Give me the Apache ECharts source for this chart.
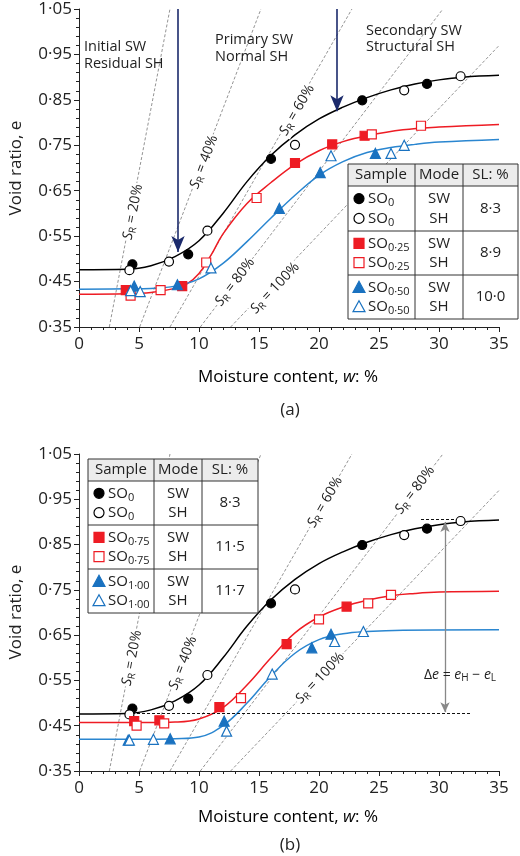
<!DOCTYPE html>
<html><head><meta charset="utf-8">
<script src="https://cdn.jsdelivr.net/npm/echarts@6/dist/echarts.min.js"></script>
<style>html,body{margin:0;padding:0;background:#fff}#c{width:520px;height:856px}</style>
</head><body><div id="c"></div>
<script>
// ---------- DATA ----------
const xTicks = [0, 5, 10, 15, 20, 25, 30, 35];
const yTicks = [0.35, 0.45, 0.55, 0.65, 0.75, 0.85, 0.95, 1.05];
const satLevels = [20, 40, 60, 80, 100]; // S_R %
const Gs = 2.77;
// (a) points [w, e]
const so0SW = [[4.45,0.488],[9.1,0.51],[16.0,0.72],[23.6,0.849],[29.0,0.885]];
const so0SH = [[4.2,0.475],[7.5,0.494],[10.7,0.562],[18.0,0.751],[27.1,0.871],[31.8,0.902]];
const so025SW = [[3.9,0.431],[8.6,0.44],[18.0,0.711],[21.1,0.752],[23.8,0.771]];
const so025SH = [[4.3,0.419],[6.8,0.431],[10.6,0.492],[14.8,0.634],[24.4,0.774],[28.5,0.793]];
const so050SW = [[4.6,0.44],[8.2,0.443],[16.7,0.611],[20.1,0.69],[24.7,0.732]];
const so050SH = [[4.3,0.43],[5.1,0.428],[11.0,0.48],[21.0,0.727],[26.0,0.732],[27.1,0.75]];
// (a) fitted curves
const fitSO0 = [[0,0.476],[4,0.477],[6,0.485],[8,0.505],[10,0.54],[12,0.6],[14,0.67],[16,0.728],[18,0.773],[20,0.808],[22,0.834],[24,0.855],[26,0.872],[28,0.885],[30,0.894],[32,0.9],[35,0.904]];
const fitSO025 = [[0,0.422],[4,0.423],[6,0.426],[8,0.435],[9,0.445],[10,0.468],[11,0.508],[12,0.555],[14,0.622],[16,0.668],[18,0.708],[20,0.738],[22,0.758],[24,0.771],[27,0.784],[30,0.79],[35,0.796]];
const fitSO050 = [[0,0.433],[4,0.434],[6,0.435],[8,0.44],[10,0.456],[12,0.49],[14,0.538],[16,0.59],[18,0.64],[20,0.684],[22,0.714],[24,0.734],[26,0.745],[28,0.752],[30,0.757],[35,0.763]];
const arrowsA = [[8.25, 1.05, 0.515], [21.5, 1.05, 0.825]];
// (b) points
const so075SW = [[4.6,0.46],[6.7,0.462],[11.7,0.491],[17.3,0.63],[22.3,0.713]];
const so075SH = [[4.8,0.45],[7.1,0.455],[13.5,0.511],[20.0,0.685],[24.1,0.72],[26.0,0.739]];
const so100SW = [[4.1,0.418],[7.6,0.421],[12.1,0.46],[19.4,0.622],[21.0,0.652]];
const so100SH = [[4.2,0.418],[6.2,0.42],[12.3,0.438],[16.1,0.564],[21.3,0.636],[23.7,0.658]];
const fitSO075 = [[0,0.457],[6,0.457],[8,0.458],[10,0.465],[12,0.49],[14,0.54],[16,0.6],[18,0.655],[20,0.69],[22,0.712],[24,0.727],[26,0.737],[28,0.742],[30,0.745],[35,0.747]];
const fitSO100 = [[0,0.42],[6,0.42],[8,0.421],[10,0.425],[12,0.45],[14,0.5],[16,0.56],[18,0.61],[20,0.64],[22,0.653],[24,0.658],[27,0.661],[35,0.662]];
const eH = 0.905, eL = 0.477;
const dashLow = [4, 32.6], dashHigh = [28.5, 32], deltaW = 30.5;

// ---------- CHART ----------
const FONT = '"Open Sans", "Noto Sans", sans-serif';
const fmt = v => v.toFixed(2).replace('.', '\u00B7');
function axes(i) {
  return {
    x: {type:'value', gridIndex:i, min:0, max:35, interval:5,
      axisLine:{lineStyle:{color:'#222'}}, axisTick:{length:5,lineStyle:{color:'#222'}},
      minorTick:{show:true,splitNumber:5,length:3,lineStyle:{color:'#222'}},
      axisLabel:{fontFamily:FONT,fontSize:17,color:'#222',margin:9}, splitLine:{show:false}},
    y: {type:'value', gridIndex:i, min:0.35, max:1.05, interval:0.1,
      axisLine:{show:true,lineStyle:{color:'#222'}}, axisTick:{show:true,length:5,lineStyle:{color:'#222'}},
      minorTick:{show:true,splitNumber:5,length:3,lineStyle:{color:'#222'}},
      axisLabel:{fontFamily:FONT,fontSize:17,color:'#222',formatter:fmt,margin:7}, splitLine:{show:false}}
  };
}
const a0 = axes(0), a1 = axes(1);
const series = [];
function satLines(i) {
  satLevels.forEach(S => {
    const k = Gs / S;
    const w0 = 0.35 / k, w1 = Math.min(1.05 / k, 35);
    series.push({type:'line', xAxisIndex:i, yAxisIndex:i, data:[[w0,0.35],[w1,w1*k]], symbol:'none',
      lineStyle:{color:'#888',width:0.9,type:[3,2]}, silent:true, z:1});
  });
}
function curve(i, d, c) {
  series.push({type:'line', xAxisIndex:i, yAxisIndex:i, data:d, smooth:0.4, symbol:'none',
    lineStyle:{color:c,width:1.5}, z:2});
}
function pts(i, d, shape, c, filled) {
  series.push({type:'scatter', xAxisIndex:i, yAxisIndex:i, data:d, symbol:shape,
    symbolSize: shape==='triangle'?10:9,
    itemStyle:{color: filled? c : '#fff', borderColor:c, borderWidth:1.2, opacity:1}, z:5});
}
const BLK='#000', RED='#ee1c24', BLU='#1a72c0';
satLines(0); satLines(1);
curve(0, fitSO0, BLK); curve(0, fitSO025, RED); curve(0, fitSO050, '#2a86d0');
curve(1, fitSO0, BLK); curve(1, fitSO075, RED); curve(1, fitSO100, '#2a86d0');
pts(0, so0SW,'circle',BLK,true); pts(0, so0SH,'circle',BLK,false);
pts(0, so025SW,'rect',RED,true); pts(0, so025SH,'rect',RED,false);
pts(0, so050SW,'triangle',BLU,true); pts(0, so050SH,'triangle',BLU,false);
pts(1, so0SW,'circle',BLK,true); pts(1, so0SH,'circle',BLK,false);
pts(1, so075SW,'rect',RED,true); pts(1, so075SH,'rect',RED,false);
pts(1, so100SW,'triangle',BLU,true); pts(1, so100SH,'triangle',BLU,false);
series.push({type:'line', xAxisIndex:0, yAxisIndex:0, data:[], z:6,
  markLine:{silent:true, symbol:['none','arrow'], symbolSize:[10,16], label:{show:false},
    lineStyle:{color:'#1b2a6b',width:1.6,type:'solid'},
    data: arrowsA.map(a => [{coord:[a[0],a[1]]},{coord:[a[0],a[2]]}])}});
series.push({type:'line', xAxisIndex:1, yAxisIndex:1, data:[], z:6,
  markLine:{silent:true, symbol:'none', label:{show:false},
    lineStyle:{color:'#111',width:1,type:[3,2]},
    data:[[{coord:[dashLow[0],eL]},{coord:[dashLow[1],eL]}],[{coord:[dashHigh[0],eH]},{coord:[dashHigh[1],eH]}]]}});
series.push({type:'line', xAxisIndex:1, yAxisIndex:1, data:[], z:6,
  markLine:{silent:true, symbol:['arrow','arrow'], symbolSize:[7,10], label:{show:false},
    lineStyle:{color:'#888',width:1.3,type:'solid'},
    data:[[{coord:[deltaW,eH-0.005]},{coord:[deltaW,eL+0.003]}]]}});

// ---------- graphics ----------
const rich = {
  t:{fontFamily:FONT,fontSize:14,color:'#222'},
  i:{fontFamily:FONT,fontSize:14,color:'#222',fontStyle:'italic'},
  s:{fontFamily:FONT,fontSize:10,color:'#222',padding:[7,0,0,0]},
  n:{fontFamily:FONT,fontSize:15,color:'#222'},
  ns:{fontFamily:FONT,fontSize:11,color:'#222',padding:[9,0,0,0]}
};
const G = [];
function txt(x,y,text,opt={}) {
  G.push({type:'text', x, y, rotation:opt.rot||0, z:20,
    style:{text, rich, fontFamily:FONT, fontSize:opt.fs||14, fill:'#222',
      align:opt.align||'left', verticalAlign:'middle',
      backgroundColor:opt.bg, padding:opt.pad}});
}
function sr(x,y,pct,deg) {
  txt(x,y,'{i|S}{s|R}{t| = '+pct+'%}',{rot:deg*Math.PI/180,align:'center',bg:'#fff',pad:[0,1]});
}
txt(84,47,'Initial SW',{fs:14.5}); txt(84,64,'Residual SH',{fs:14.5});
txt(215,40,'Primary SW',{fs:14.5}); txt(215,57,'Normal SH',{fs:14.5});
txt(366,31,'Secondary SW',{fs:14.5}); txt(366,47,'Structural SH',{fs:14.5});
sr(133,212,20,79); sr(204,162,40,69); sr(297,110,60,60); sr(235,282,80,53); sr(275,288,100,47);
sr(132,658,20,79); sr(183,663,40,69); sr(325,502,60,60); sr(415,490,80,53); sr(320,678,100,47);
txt(460,675,'{t|\u0394}{i|e}{t| = }{i|e}{s|H}{t| \u2212 }{i|e}{s|L}',{align:'center'});
[[168,377,410,'(a)'],[612,817,845,'(b)']].forEach(r=>{
  G.push({type:'text',x:16,y:r[0],rotation:Math.PI/2,z:20,style:{text:'Void ratio, e',fontFamily:FONT,fontSize:17,fill:'#222',align:'center',verticalAlign:'middle'}});
  G.push({type:'text',x:288,y:r[1],z:20,style:{rich:{a:{fontFamily:FONT,fontSize:17,color:'#222'},b:{fontFamily:FONT,fontSize:17,color:'#222',fontStyle:'italic'}},text:'{a|Moisture content, }{b|w}{a|: %}',align:'center',verticalAlign:'middle'}});
  txt(290,r[2],r[3],{align:'center',fs:17});
});
function table(x0,y0,c1,c2,x1,hb,rows,labels,sl) {
  const y1 = rows[3];
  G.push({type:'rect',shape:{x:x0,y:y0,width:x1-x0,height:hb-y0},style:{fill:'#ececec'},z:10});
  G.push({type:'rect',shape:{x:x0,y:hb,width:x1-x0,height:y1-hb},style:{fill:'#fff'},z:10});
  G.push({type:'rect',shape:{x:x0,y:y0,width:x1-x0,height:y1-y0},style:{fill:'none',stroke:'#333',lineWidth:1},z:11});
  [c1,c2].forEach(c=>G.push({type:'line',shape:{x1:c,y1:y0,x2:c,y2:y1},style:{stroke:'#333',lineWidth:1},z:11}));
  [hb,rows[1],rows[2]].forEach(y=>G.push({type:'line',shape:{x1:x0,y1:y,x2:x1,y2:y},style:{stroke:'#333',lineWidth:1},z:11}));
  const hy=(y0+hb)/2;
  txt(x0+7,hy,'Sample',{fs:15}); txt((c1+c2)/2,hy,'Mode',{align:'center',fs:15}); txt((c2+x1)/2,hy,'SL: %',{align:'center',fs:15});
  const mk=[['circle',BLK],['rect',RED],['triangle',BLU]];
  for(let g=0;g<3;g++){
    const top=rows[g], h=rows[g+1]-rows[g];
    for(let k=0;k<2;k++){
      const yy=top+h*(k===0?0.28:0.72);
      const [shape,c]=mk[g]; const fill=k===0?c:'#fff';
      let el;
      if(shape==='circle') el={type:'circle',shape:{cx:x0+11,cy:yy,r:5}};
      else if(shape==='rect') el={type:'rect',shape:{x:x0+6,y:yy-5,width:10,height:10}};
      else el={type:'polygon',shape:{points:[[x0+11,yy-6],[x0+17,yy+5],[x0+5,yy+5]]}};
      el.style={fill,stroke:c,lineWidth:1.2}; el.z=12; G.push(el);
      txt(x0+20,yy,'{n|SO}{ns|'+labels[g]+'}');
      txt((c1+c2)/2,yy,k===0?'SW':'SH',{align:'center',fs:15});
    }
    txt((c2+x1)/2,top+h/2,sl[g],{align:'center',fs:15});
  }
}
table(348,164,415,463,518,186,[186,231,275,319],['0','0\u00B725','0\u00B750'],['8\u00B73','8\u00B79','10\u00B70']);
table(88,459,154,202,258,481,[481,525,569,613],['0','0\u00B775','1\u00B700'],['8\u00B73','11\u00B75','11\u00B77']);

const chart = echarts.init(document.getElementById('c'));
chart.setOption({
  animation:false,
  grid:[{left:79,top:9,width:420,height:318},{left:79,top:454,width:420,height:317}],
  xAxis:[a0.x,a1.x], yAxis:[a0.y,a1.y],
  series, graphic:G
});
</script></body></html>
